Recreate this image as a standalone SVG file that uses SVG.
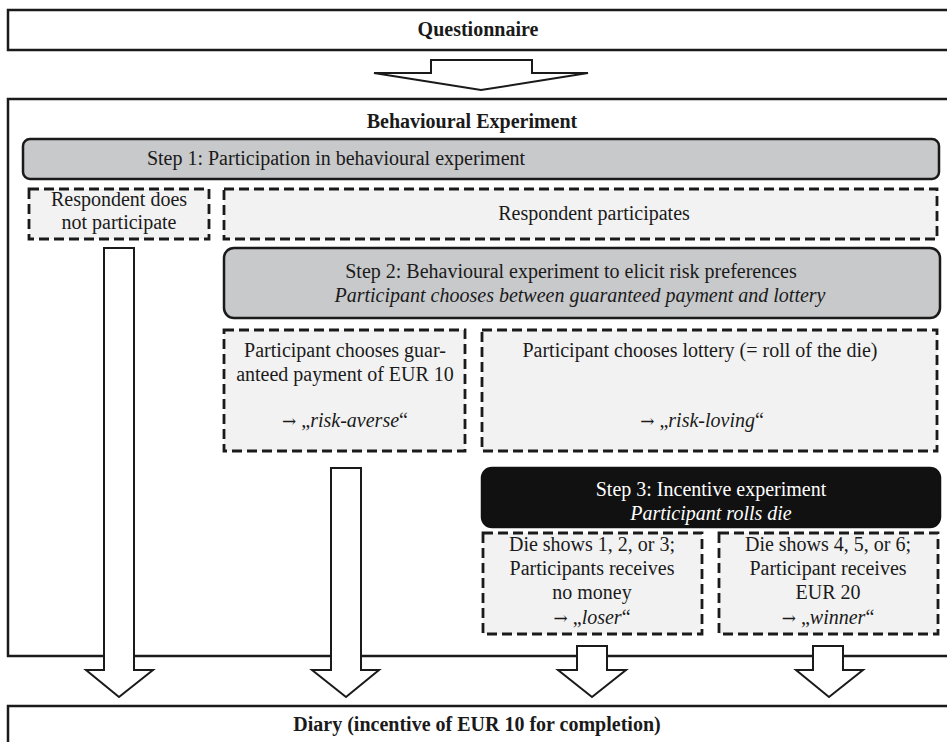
<svg xmlns="http://www.w3.org/2000/svg" width="947" height="742" viewBox="0 0 947 742">
<style>
text { font-family: 'Liberation Serif', 'Times New Roman', serif; font-size: 20px; fill: #1a1a1a; text-anchor: middle; }
.b { font-weight: bold; }
.i { font-style: italic; }
.w { fill: #ffffff; }
.ar { font-family: 'DejaVu Serif', 'DejaVu Sans', serif; font-size: 17px; }
.frame { fill: #ffffff; stroke: #1a1a1a; stroke-width: 2.5; }
.step { fill: #c8c9cb; stroke: #1a1a1a; stroke-width: 2.5; }
.dark { fill: #111111; stroke: #111111; stroke-width: 2.5; }
.dash { fill: #f2f2f2; stroke: #1a1a1a; stroke-width: 2.8; stroke-dasharray: 10 5; }
.arrow { fill: #ffffff; stroke: #1a1a1a; stroke-width: 2; }
</style>
<rect width="947" height="742" fill="#ffffff"/>

<g id="questionnaire">
<rect class="frame" x="8" y="10" width="950" height="40"/>
<text class="b" x="478" y="36">Questionnaire</text>
</g>

<g id="behavioural">
<rect class="frame" x="8" y="99" width="950" height="557"/>
<text class="b" x="472" y="128">Behavioural Experiment</text>
</g>

<g id="diary">
<rect class="frame" x="8" y="706" width="950" height="50"/>
<text class="b" x="477" y="731">Diary (incentive of EUR 10 for completion)</text>
</g>

<g id="step1">
<rect class="step" x="23" y="139" width="916" height="40" rx="7"/>
<text x="336" y="165">Step 1: Participation in behavioural experiment</text>
</g>

<g id="no-participate">
<rect class="dash" x="29" y="189" width="180" height="50"/>
<text x="119" y="206">Respondent does</text>
<text x="119" y="229">not participate</text>
</g>

<g id="participates">
<rect class="dash" x="224" y="189" width="713" height="50"/>
<text x="594" y="220">Respondent participates</text>
</g>

<g id="step2">
<rect class="step" x="224" y="248" width="716" height="70" rx="10"/>
<text x="571" y="278">Step 2: Behavioural experiment to elicit risk preferences</text>
<text class="i" x="580" y="302">Participant chooses between guaranteed payment and lottery</text>
</g>

<g id="risk-averse">
<rect class="dash" x="224" y="330" width="241" height="121"/>
<text x="345" y="357">Participant chooses guar-</text>
<text x="345" y="381">anteed payment of EUR 10</text>
<text x="345" y="427"><tspan class="ar">→</tspan> „<tspan class="i">risk-averse</tspan>“</text>
</g>

<g id="risk-loving">
<rect class="dash" x="482" y="330" width="455" height="121"/>
<text x="700" y="357">Participant chooses lottery (= roll of the die)</text>
<text x="702" y="427"><tspan class="ar">→</tspan> „<tspan class="i">risk-loving</tspan>“</text>
</g>

<g id="step3">
<rect class="dark" x="482" y="468" width="458" height="59" rx="10"/>
<text class="w" x="711" y="496">Step 3: Incentive experiment</text>
<text class="w i" x="711" y="520">Participant rolls die</text>
</g>

<g id="loser">
<rect class="dash" x="483" y="533" width="219" height="101"/>
<text x="592" y="551">Die shows 1, 2, or 3;</text>
<text x="592" y="575">Participants receives</text>
<text x="592" y="599">no money</text>
<text x="592" y="624"><tspan class="ar">→</tspan> „<tspan class="i">loser</tspan>“</text>
</g>

<g id="winner">
<rect class="dash" x="719" y="533" width="219" height="101"/>
<text x="828" y="551">Die shows 4, 5, or 6;</text>
<text x="828" y="575">Participant receives</text>
<text x="828" y="599">EUR 20</text>
<text x="828" y="624"><tspan class="ar">→</tspan> „<tspan class="i">winner</tspan>“</text>
</g>

<g id="connectors">
<polygon class="arrow" points="431,60 532,60 532,73 588,73 481,90 374,73 431,73"/>
<polygon class="arrow" points="104,248 134,248 134,670 153,670 119,697 86,670 104,670"/>
<polygon class="arrow" points="331,468 361,468 361,670 379,670 346,697 312,670 331,670"/>
<polygon class="arrow" points="577,646 607,646 607,670 626,670 592,697 558,670 577,670"/>
<polygon class="arrow" points="813,646 843,646 843,670 863,670 829,697 796,670 813,670"/>
</g>
</svg>
